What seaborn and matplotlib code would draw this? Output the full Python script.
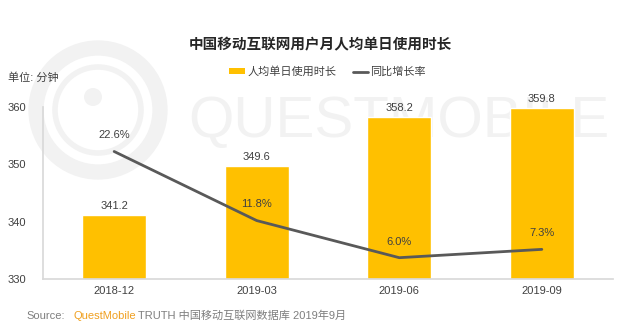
import numpy as np
import pandas as pd
import matplotlib
matplotlib.use("Agg")
import matplotlib.pyplot as plt
from matplotlib.patches import Patch, Ellipse
from matplotlib.lines import Line2D
import seaborn as sns

# ---- data ----
categories = ["2018-12", "2019-03", "2019-06", "2019-09"]
minutes = [341.2, 349.6, 358.2, 359.8]
growth = [22.6, 11.8, 6.0, 7.3]
y_ticks = [330, 340, 350, 360]

title = "中国移动互联网用户月人均单日使用时长"
bar_name = "人均单日使用时长"
line_name = "同比增长率"
unit_text = "单位: 分钟"

sns.set_theme(style="white")
plt.rcParams["font.family"] = ["Liberation Sans", "Noto Sans CJK SC", "DejaVu Sans"]

BAR = "#FFC000"
LINE = "#595959"
TXT = "#404040"
AXC = "#D9D9D9"
WM = "#F2F2F2"

df = pd.DataFrame({"cat": categories, "min": minutes, "g": growth,
                   "pos": np.arange(len(categories))})

W, H = 640, 333
fig = plt.figure(figsize=(6.4, 3.33), dpi=100)
fig.patch.set_facecolor("white")

# faint background watermark (pixel-based background axes)
bg = fig.add_axes([0, 0, 1, 1], zorder=-5)
bg.set_xlim(0, W)
bg.set_ylim(H, 0)
bg.axis("off")
bg.add_patch(Ellipse((98, 110), 124, 124, facecolor="none", edgecolor=WM, lw=11))
bg.add_patch(Ellipse((98, 110), 86, 86, facecolor="none", edgecolor=WM, lw=4))
bg.add_patch(Ellipse((93, 97), 18, 18, facecolor=WM, edgecolor="none"))
bg.text(188, 122, "QUESTMOBILE", fontsize=42, color=WM, ha="left", va="center",
        family=["Liberation Sans"])

ax = fig.add_axes([0.067, 0.162, 0.891, 0.604], zorder=1)
ax.patch.set_alpha(0)
sns.barplot(data=df, x="pos", y="min", color=BAR, width=0.45, ax=ax,
            saturation=1)
ax.set_xlim(-0.5, 3.5)
ax.set_ylim(330, 365)
ax.set_yticks(y_ticks)
ax.set_xticks(df["pos"])
ax.set_xticklabels(categories)
ax.set_xlabel("")
ax.set_ylabel("")
for s in ["top", "right"]:
    ax.spines[s].set_visible(False)
ax.spines["left"].set_color(AXC)
ax.spines["bottom"].set_color(AXC)
ax.spines["left"].set_bounds(330, 360)
ax.tick_params(axis="both", length=0, labelsize=8, colors=TXT)
ax.tick_params(axis="y", pad=12)
ax.tick_params(axis="x", pad=5)
for c in ax.containers:
    ax.bar_label(c, labels=[f"{v:.1f}" for v in minutes], padding=3,
                 fontsize=8, color=TXT)

ax2 = ax.twinx()
ax2.set_ylim(2.66, 34.1)
sns.lineplot(data=df, x="pos", y="g", color=LINE, lw=2, ax=ax2)
ax2.set_xlim(-0.5, 3.5)
ax2.axis("off")
for x, v in zip(df["pos"], growth):
    ax2.annotate(f"{v:.1f}%", (x, v), xytext=(0, 8), textcoords="offset points",
                 ha="center", va="bottom", fontsize=8, color=TXT)

fig.text(0.5, 0.865, title, ha="center", va="center", fontsize=10.5,
         fontweight="bold", color="#262626")
fig.text(0.012, 0.766, unit_text, ha="left", va="center", fontsize=8, color=TXT)

handles = [Patch(facecolor=BAR, edgecolor="none"),
           Line2D([0], [0], color=LINE, lw=2)]
fig.legend(handles, [bar_name, line_name], loc="center",
           bbox_to_anchor=(0.512, 0.784), ncol=2, frameon=False, fontsize=8,
           handlelength=1.4, handleheight=0.5, handletextpad=0.2,
           columnspacing=1.5, labelcolor=TXT)

# source line
y_src = 0.051
t1 = fig.text(0.042, y_src, "Source:", fontsize=8, color="#7F7F7F", va="center")
fig.canvas.draw()
r = fig.canvas.get_renderer()
bb = t1.get_window_extent(r)
x2 = bb.x1 / fig.bbox.width + 0.012
t2 = fig.text(x2, y_src, "QuestMobile", fontsize=8, color="#F0A020", va="center")
bb2 = t2.get_window_extent(r)
x3 = bb2.x1 / fig.bbox.width + 0.003
fig.text(x3, y_src, "TRUTH 中国移动互联网数据库 2019年9月", fontsize=8,
         color="#7F7F7F", va="center")

fig.savefig("out.png", dpi=100, facecolor="white")
